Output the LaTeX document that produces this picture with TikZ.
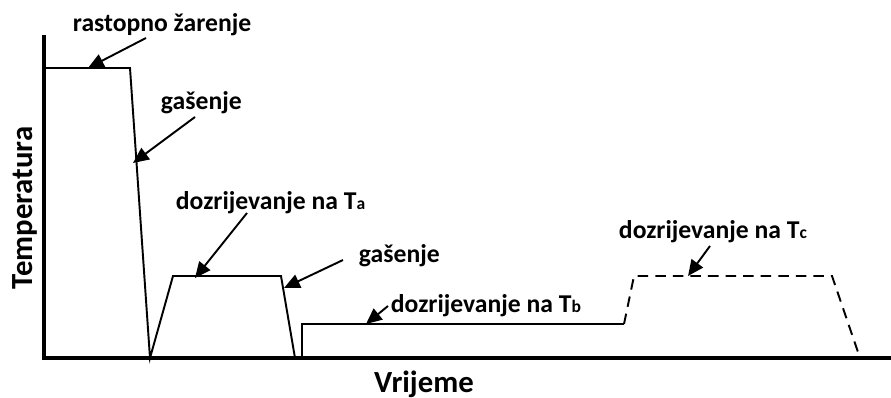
\documentclass[tikz,border=0pt]{standalone}
\usepackage{fontspec}
\setmainfont{Carlito}
\usetikzlibrary{arrows.meta}
\newcommand{\sub}[1]{{\fontsize{10}{10}\selectfont #1}}
\begin{document}
\begin{tikzpicture}[x=0.02cm,y=-0.02cm,line width=1.1pt,
  lbl/.style={font=\bfseries\fontsize{14.6}{16}\selectfont,inner sep=0pt,anchor=base west},
  axlbl/.style={font=\bfseries\fontsize{17.5}{19}\selectfont,inner sep=0pt},
  ptr/.style={-{Triangle[length=9pt,width=8pt]},line width=1.1pt}]
\useasboundingbox (0,0) rectangle (891,398);
% axes
\draw[line width=2.4pt] (44,35) -- (44,358) -- (891,358);
\node[axlbl,anchor=base] (vrijeme) at (424,392) {Vrijeme};
\node[axlbl,anchor=base,rotate=90] (temp) at (32,208) {Temperatura};
% heat treatment curve
\coordinate (s1) at (44,68); \coordinate (s2) at (130,68); \coordinate (s3) at (150,358);
\coordinate (a1) at (173,276); \coordinate (a2) at (281,276); \coordinate (a3) at (295,358);
\coordinate (b0) at (302,358); \coordinate (b1) at (302,324); \coordinate (b2) at (624,324);
\coordinate (c1) at (634,276); \coordinate (c2) at (832,276); \coordinate (c3) at (860,358);
\draw (s1) -- (s2) -- (s3) -- (a1) -- (a2) -- (a3);
\draw (b0) -- (b1) -- (b2);
\draw[dashed,dash pattern=on 6pt off 4pt] (b2) -- (c1) -- (c2) -- (c3);
% labels
\node[lbl] (rast) at (72,32) {rastopno žarenje};
\node[lbl] (gas1) at (160,110) {gašenje};
\node[lbl] (ta) at (175,210) {dozrijevanje na T\sub{a}};
\node[lbl] (gas2) at (358,262) {gašenje};
\node[lbl] (tb) at (390,312) {dozrijevanje na T\sub{b}};
\node[lbl] (tc) at (618,238) {dozrijevanje na T\sub{c}};
% pointers
\foreach \t/\h/\tx/\ty/\hx/\hy in {rast/rasth/146/38/88/68, gas1/gas1h/195/117/133/163,
    ta/tah/247/213/195/278, gas2/gas2h/343/260/284/288, tb/tbh/388/306/366/324, tc/tch/710/246/688/276}{
  \coordinate (\t t) at (\tx,\ty); \coordinate (\h) at (\hx,\hy);
  \draw[ptr] (\t t) -- (\h);
}
\end{tikzpicture}
\end{document}
